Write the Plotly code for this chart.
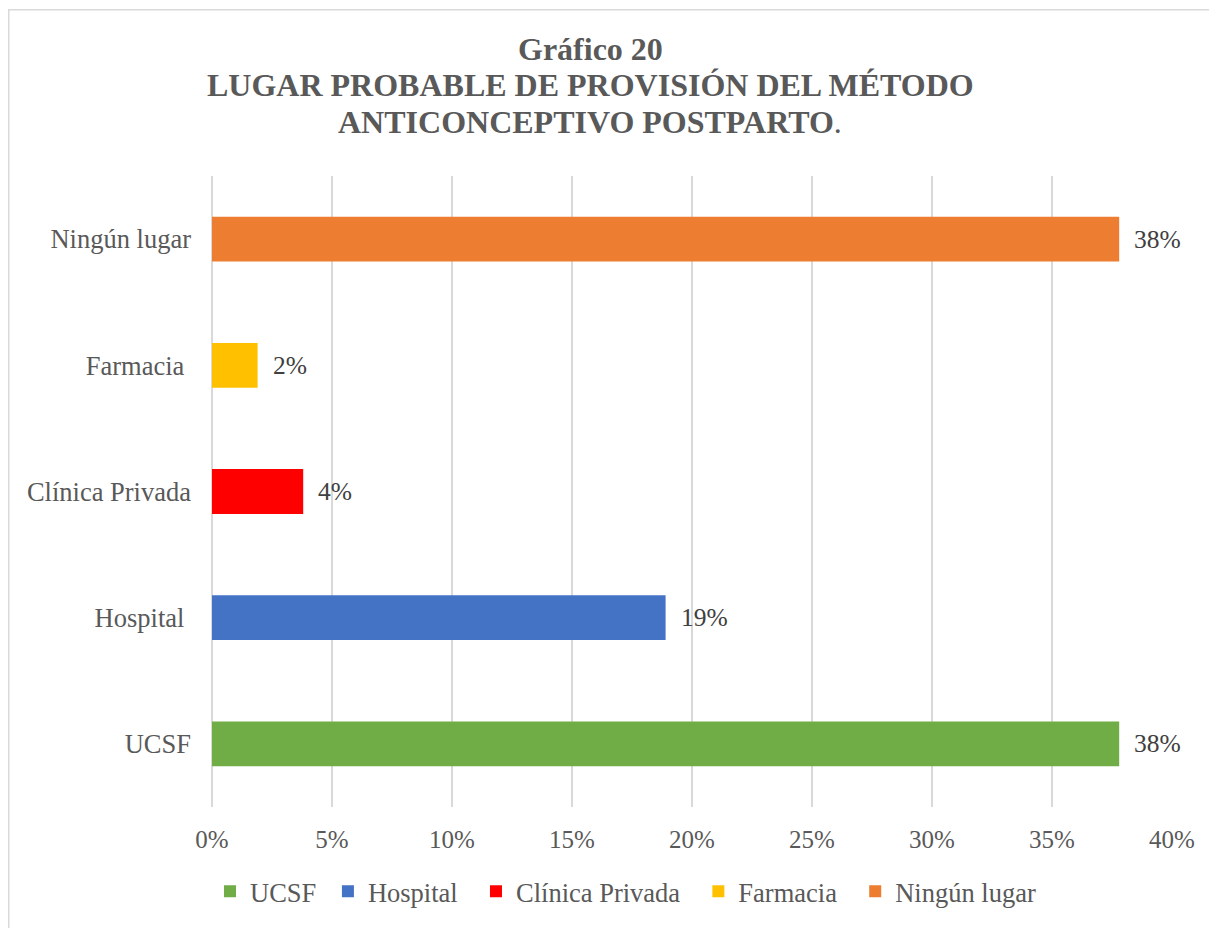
import plotly.graph_objects as go

categories = ["UCSF", "Hospital", "Clínica Privada", "Farmacia", "Ningún lugar"]
tick_labels = ["UCSF", "Hospital\u00a0", "Clínica Privada", "Farmacia\u00a0", "Ningún lugar"]
legend_names = ["UCSF\u00a0", "Hospital\u00a0\u00a0", "Clínica Privada\u00a0\u00a0", "Farmacia\u00a0\u00a0", "Ningún lugar"]
values = [0.378, 0.189, 0.038, 0.019, 0.378]
colors = ["#70AD47", "#4472C4", "#FF0000", "#FFC000", "#ED7D31"]
title_lines = ["<b>Gráfico 20</b>", "<b>LUGAR PROBABLE DE PROVISIÓN DEL MÉTODO</b>",
               "<b>ANTICONCEPTIVO POSTPARTO</b>."]

FONT = "Liberation Serif"
GRAY = "#595959"

# page is offset by the 8px body margin
W, H = 1209, 920
L, T = 204, 168
PW, PH = 960, 634

fig = go.Figure()
for cat, name, val, col in zip(categories, legend_names, values, colors):
    fig.add_trace(go.Bar(
        y=[cat], x=[val], name=name, orientation="h",
        marker=dict(color=col, line=dict(width=0)),
        hoverinfo="x+y",
    ))

annotations = []
for cat, val in zip(categories, values):
    annotations.append(dict(
        x=val, y=cat, xref="x", yref="y", text=f"{val:.0%}",
        showarrow=False, xanchor="left", yanchor="middle", xshift=13,
        font=dict(family=FONT, size=25.5, color="#404040"),
    ))

for line, ypage in zip(title_lines, [48, 85, 122]):
    annotations.append(dict(
        x=(582 - L) / PW, y=(T + PH - (ypage - 8)) / PH, xref="paper", yref="paper",
        text=line, showarrow=False, xanchor="center", yanchor="middle",
        font=dict(family=FONT, size=32, color=GRAY),
    ))

fig.update_layout(
    width=W, height=H,
    margin=dict(l=L, r=W - L - PW, t=T, b=H - T - PH),
    paper_bgcolor="white", plot_bgcolor="white",
    barmode="relative", bargap=0.645,
    font=dict(family=FONT, size=26.5, color=GRAY),
    xaxis=dict(
        range=[0, 0.4], dtick=0.05, tick0=0, tickformat=".0%",
        showgrid=True, gridcolor="#d9d9d9", gridwidth=1.5,
        zeroline=True, zerolinecolor="#d9d9d9", zerolinewidth=1.5,
        showline=False, ticks="", ticklabelstandoff=15,
        tickfont=dict(family=FONT, size=25, color=GRAY),
        fixedrange=True,
    ),
    yaxis=dict(
        type="category", categoryorder="array", categoryarray=categories,
        tickmode="array", tickvals=categories, ticktext=tick_labels,
        showgrid=False, zeroline=False, showline=False, ticks="",
        ticklabelstandoff=20,
        tickfont=dict(family=FONT, size=26.5, color=GRAY),
        fixedrange=True,
    ),
    legend=dict(
        orientation="h", x=(202 - L) / PW, xanchor="left",
        y=(PH - (895 - 8 - T)) / PH, yanchor="middle",
        font=dict(family=FONT, size=26.5, color=GRAY),
        traceorder="normal", bgcolor="rgba(0,0,0,0)",
    ),
    annotations=annotations,
    shapes=[dict(
        type="rect", xref="paper", yref="paper",
        x0=(0.75 - L) / PW, x1=1.3, y0=-0.4, y1=(PH + T - 1) / PH,
        line=dict(color="#d9d9d9", width=1.5), fillcolor="rgba(0,0,0,0)", layer="below",
    )],
)

fig.write_html("out.html")
